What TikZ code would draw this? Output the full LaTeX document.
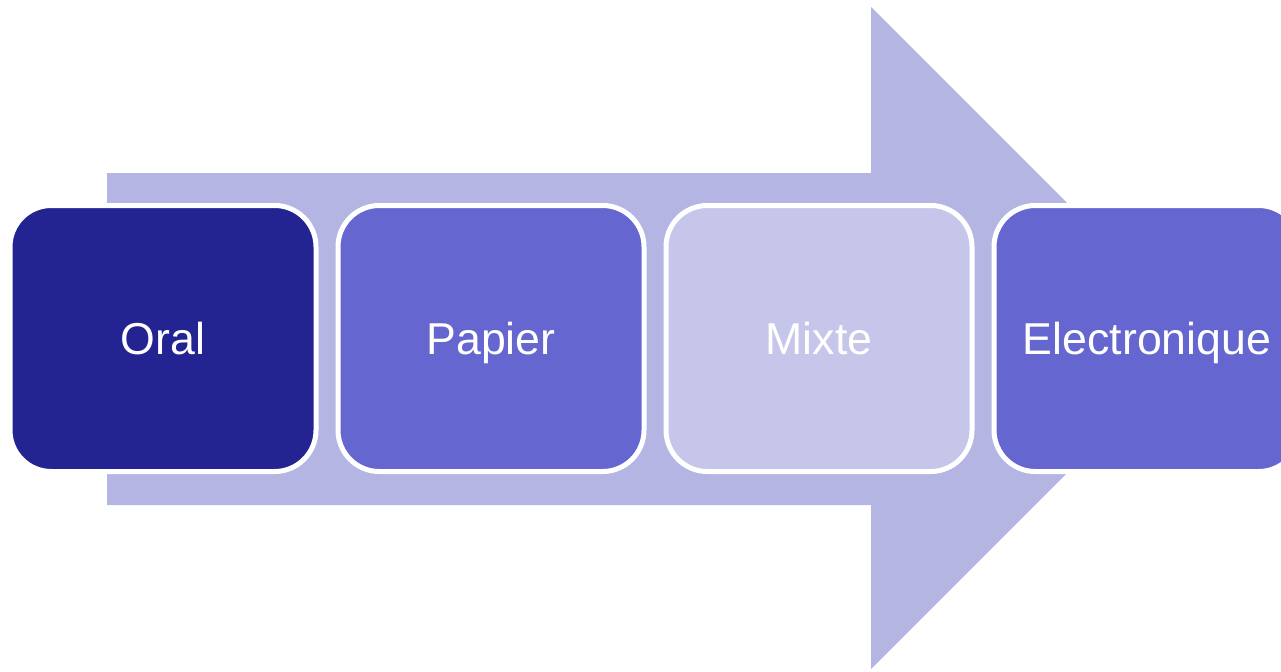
\documentclass[tikz,border=0pt]{standalone}
\usepackage{fontspec}
\setmainfont{Liberation Sans}
\definecolor{arrowc}{HTML}{B4B5E2}
\definecolor{darkc}{HTML}{232391}
\definecolor{midc}{HTML}{6566CF}
\definecolor{lightc}{HTML}{C6C6EA}
\begin{document}
\begin{tikzpicture}[x=0.75pt,y=-0.75pt,
  stagebox/.style={draw=white,line width=3.75pt,rounded corners=31pt,
    minimum width=229.5pt,minimum height=199.5pt,inner sep=0pt,
    text=white,font=\fontsize{33.5}{40}\selectfont,
    text height=24pt,text depth=0pt,align=center}]
\clip (0,0) rectangle (1281,671);
\fill[white] (0,0) rectangle (1281,671);
\fill[arrowc] (107,173) -- (871,173) -- (871,7) -- (1202,338) -- (871,669) -- (871,505) -- (107,505) -- cycle;
\node[stagebox,fill=darkc]  (oral)  at (163,338.5)  {Oral};
\node[stagebox,fill=midc]   (papier) at (491,338.5) {Papier};
\node[stagebox,fill=lightc] (mixte) at (819,338.5)  {Mixte};
\node[stagebox,fill=midc]   (elec)  at (1147,338.5) {Electronique};
\end{tikzpicture}
\end{document}
